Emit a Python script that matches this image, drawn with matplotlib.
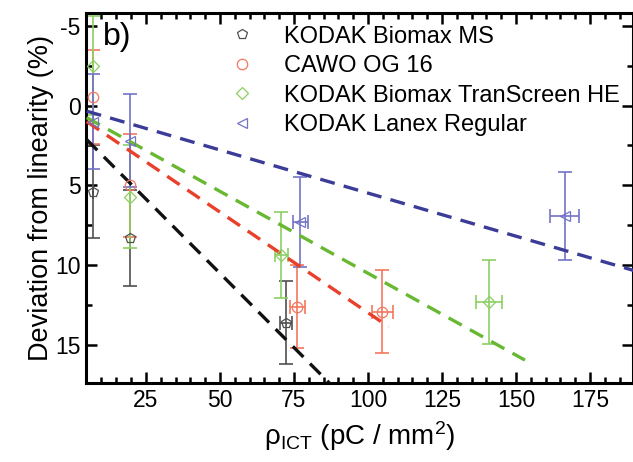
import numpy as np
import matplotlib
matplotlib.use("Agg")
import matplotlib.pyplot as plt

plt.rcParams["font.family"] = ["Liberation Sans", "DejaVu Sans"]
plt.rcParams["axes.unicode_minus"] = False

# data
names = ["KODAK Biomax MS", "CAWO OG 16", "KODAK Biomax TranScreen HE", "KODAK Lanex Regular"]

ms_x = [7.0, 19.6, 72.4]
ms_y = [5.4, 8.3, 13.6]
ms_yerr = [2.9, 3.0, 2.6]
ms_xerr = [0.0, 0.0, 2.1]

cawo_x = [7.0, 19.6, 76.1, 104.9]
cawo_y = [-0.55, 5.0, 12.6, 12.9]
cawo_yerr = [2.95, 3.2, 2.6, 2.6]
cawo_xerr = [0.0, 0.0, 2.5, 3.4]

he_x = [7.0, 19.6, 70.7, 140.8]
he_y = [-2.5, 5.7, 9.35, 12.3]
he_yerr = [3.1, 3.2, 2.7, 2.6]
he_xerr = [0.0, 0.0, 2.2, 4.4]

lanex_x = [7.0, 19.6, 77.2, 166.4]
lanex_y = [1.0, 2.2, 7.3, 6.9]
lanex_yerr = [3.0, 2.9, 2.8, 2.75]
lanex_xerr = [0.0, 0.0, 2.5, 5.0]

# linear fits: intercept, slope, x end
fit_b = [1.2, 0.37, 0.24, 0.08]
fit_m = [0.186, 0.126, 0.1026, 0.054]
fit_end = [92, 107, 153, 192]

series = [
    (ms_x, ms_y, ms_xerr, ms_yerr),
    (cawo_x, cawo_y, cawo_xerr, cawo_yerr),
    (he_x, he_y, he_xerr, he_yerr),
    (lanex_x, lanex_y, lanex_xerr, lanex_yerr),
]
markers = ["p", "o", "D", "<"]
msizes = [7.5, 7.5, 6.5, 7.5]
pt_colors = ["#505050", "#f3775f", "#8ccf62", "#7373c8"]
line_colors = ["#111111", "#e8402a", "#68b832", "#3b3b98"]

fig = plt.figure(figsize=(6.33, 4.62), dpi=100)
ax = fig.add_axes([0.136, 0.170, 0.864, 0.802])

for i in range(4):
    xs = np.array([5.0, fit_end[i]])
    ax.plot(xs, fit_b[i] + fit_m[i] * xs, color=line_colors[i], lw=2.4,
            linestyle=(0, (4.5, 2.8)), zorder=3)

handles = []
for i, (x, y, xe, ye) in enumerate(series):
    ax.errorbar(x, y, yerr=ye, xerr=xe, fmt="none", ecolor=pt_colors[i],
                elinewidth=1.2, capsize=5, capthick=1.2, zorder=2)
    h, = ax.plot(x, y, linestyle="none", marker=markers[i], ms=msizes[i],
                 mfc="none", mec=pt_colors[i], mew=0.9, zorder=4)
    handles.append(h)

ax.set_xlim(4.8, 189.5)
ax.set_ylim(17.4, -5.8)
ax.set_xticks([25, 50, 75, 100, 125, 150, 175])
ax.set_xticks(np.arange(10, 190, 5), minor=True)
ax.set_yticks([-5, 0, 5, 10, 15])
ax.set_yticks(np.arange(-5, 17.5, 2.5), minor=True)
ax.tick_params(which="both", direction="in", top=True, right=True, width=1.8)
ax.tick_params(which="major", length=8, labelsize=16.5, pad=4)
ax.tick_params(which="minor", length=4.5)
for s in ax.spines.values():
    s.set_linewidth(2.2)

ax.set_xlabel(r"$\mathregular{\rho_{ICT}}$ (pC / mm$\mathregular{^2}$)", fontsize=20, labelpad=5)
ax.set_ylabel("Deviation from linearity (%)", fontsize=19.5, labelpad=1)

ax.text(0.031, 0.975, "b)", transform=ax.transAxes, fontsize=23, va="top", ha="left")

ax.legend(handles, names, loc="upper left", bbox_to_anchor=(0.237, 1.004), frameon=False,
          fontsize=17, handlelength=1.0, handletextpad=1.3, labelspacing=0.32,
          borderaxespad=0.2)

fig.savefig("out.png", dpi=100)
